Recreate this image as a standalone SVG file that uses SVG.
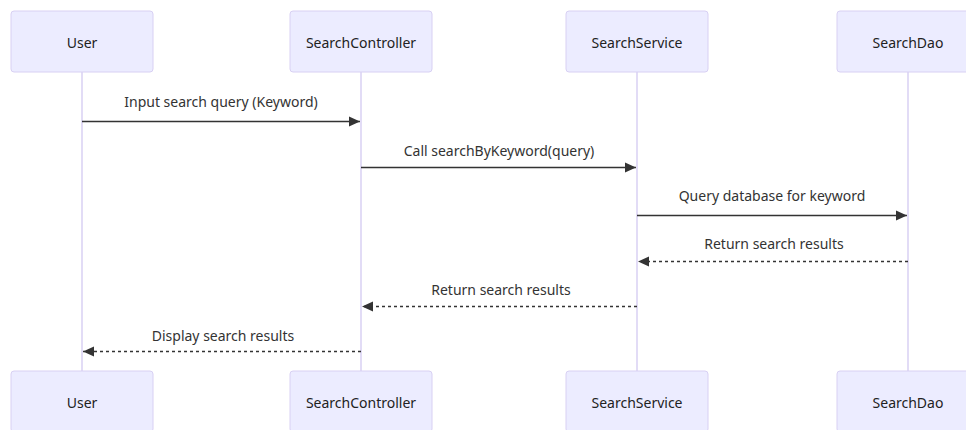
<svg xmlns="http://www.w3.org/2000/svg" width="966" height="430" viewBox="0 0 966 430">
  <style>
    .actor { fill: #ECECFF; stroke: #D8D0F3; stroke-width: 1; }
    .actor-label { font-family: "Noto Sans", "DejaVu Sans", sans-serif; font-size: 14px; fill: #222; text-anchor: middle; dominant-baseline: central; }
    .lifeline { stroke: #D8D0F3; stroke-width: 1.5; fill: none; }
    .msg { stroke: #333; stroke-width: 1.5; fill: none; }
    .reply { stroke-dasharray: 3 3; }
    .msg-label { font-family: "Noto Sans", "DejaVu Sans", sans-serif; font-size: 14px; fill: #333; text-anchor: middle; dominant-baseline: central; }
  </style>
  <defs>
    <marker id="arrowhead" viewBox="0 0 12 12" refX="11" refY="6" markerWidth="12" markerHeight="12" markerUnits="userSpaceOnUse" orient="auto">
      <path d="M0,1 L11,6 L0,11 Z" fill="#333"/>
    </marker>
  </defs>
  <rect width="966" height="430" fill="#fff"/>

  <!-- lifelines -->
  <g id="lifelines">
    <line class="lifeline" x1="82" y1="72" x2="82" y2="371"/>
    <line class="lifeline" x1="361" y1="72" x2="361" y2="371"/>
    <line class="lifeline" x1="637" y1="72" x2="637" y2="371"/>
    <line class="lifeline" x1="908" y1="72" x2="908" y2="371"/>
  </g>

  <!-- participants, top row -->
  <g id="user-top"><rect class="actor" x="11" y="11" width="142" height="61" rx="3"/><text class="actor-label" x="82" y="42">User</text></g>
  <g id="controller-top"><rect class="actor" x="290" y="11" width="142" height="61" rx="3"/><text class="actor-label" x="361" y="42">SearchController</text></g>
  <g id="service-top"><rect class="actor" x="566" y="11" width="142" height="61" rx="3"/><text class="actor-label" x="637" y="42">SearchService</text></g>
  <g id="dao-top"><rect class="actor" x="837" y="11" width="142" height="61" rx="3"/><text class="actor-label" x="908" y="42">SearchDao</text></g>

  <!-- participants, bottom row -->
  <g id="user-bottom"><rect class="actor" x="11" y="371" width="142" height="61" rx="3"/><text class="actor-label" x="82" y="402">User</text></g>
  <g id="controller-bottom"><rect class="actor" x="290" y="371" width="142" height="61" rx="3"/><text class="actor-label" x="361" y="402">SearchController</text></g>
  <g id="service-bottom"><rect class="actor" x="566" y="371" width="142" height="61" rx="3"/><text class="actor-label" x="637" y="402">SearchService</text></g>
  <g id="dao-bottom"><rect class="actor" x="837" y="371" width="142" height="61" rx="3"/><text class="actor-label" x="908" y="402">SearchDao</text></g>

  <!-- messages -->
  <g id="connectors">
    <line class="msg" x1="82" y1="121.5" x2="360" y2="121.5" marker-end="url(#arrowhead)"/>
    <text class="msg-label" x="221" y="101">Input search query (Keyword)</text>

    <line class="msg" x1="361" y1="167.5" x2="636" y2="167.5" marker-end="url(#arrowhead)"/>
    <text class="msg-label" x="499" y="150">Call searchByKeyword(query)</text>

    <line class="msg" x1="637" y1="215.5" x2="907" y2="215.5" marker-end="url(#arrowhead)"/>
    <text class="msg-label" x="772" y="195">Query database for keyword</text>

    <line class="msg reply" x1="908" y1="261.5" x2="638" y2="261.5" marker-end="url(#arrowhead)"/>
    <text class="msg-label" x="774" y="243">Return search results</text>

    <line class="msg reply" x1="637" y1="306.5" x2="362" y2="306.5" marker-end="url(#arrowhead)"/>
    <text class="msg-label" x="501" y="289">Return search results</text>

    <line class="msg reply" x1="361" y1="351.5" x2="83" y2="351.5" marker-end="url(#arrowhead)"/>
    <text class="msg-label" x="223" y="335">Display search results</text>
  </g>
</svg>
